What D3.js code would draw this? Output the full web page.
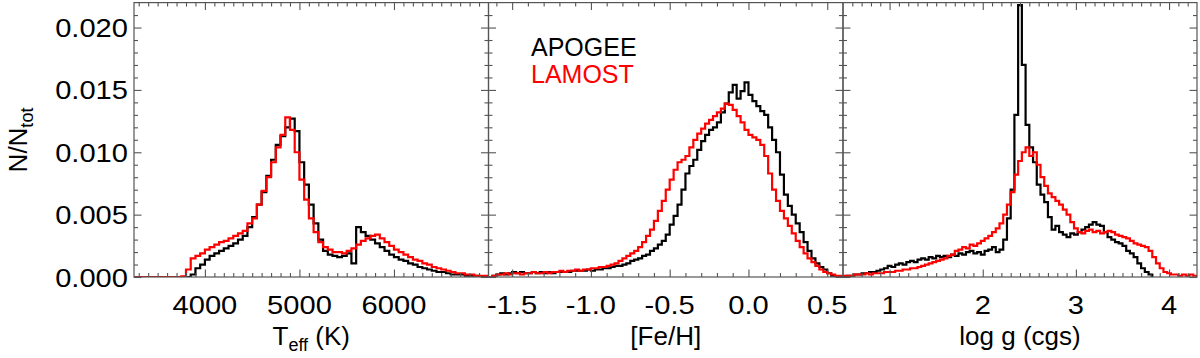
<!DOCTYPE html>
<html>
<head>
<meta charset="utf-8">
<script src="https://cdn.jsdelivr.net/npm/d3@7"></script>
<style>
body{margin:0;background:#fff}
svg{display:block;font-family:"Liberation Sans",Arial,Helvetica,sans-serif}
</style>
</head>
<body>
<script>
// bin left edges for each histogram
var teffEdges = d3.range(75).map(i => 3250 + i*50);
var fehEdges = d3.range(90).map(i => -1.65 + i*0.025);
var loggEdges = d3.range(95).map(i => 0.5 + i*0.04);

// N/Ntot
var teffApogee = [0,0,0,0,0,0,0,0,0,0,0,0,0.0002,0.0007,0.0010,0.0014,0.0017,0.0019,0.0021,0.0023,
  0.0025,0.0027,0.0030,0.0033,0.0040,0.0048,0.0058,0.0068,0.0081,0.0094,0.0106,0.0113,0.0120,0.0127,0.0117,
  0.0092,0.0074,0.0058,0.0043,0.0030,0.0021,0.0018,0.0017,0.0016,0.0017,0.0019,0.0011,0.0040,0.0036,0.0033,
  0.0030,0.0027,0.0024,0.0021,0.0018,0.0016,0.0014,0.0013,0.0011,0.0010,0.0008,0.0007,0.0006,0.0005,0.0004,
  0.0004,0.0003,0.0002,0.0002,0.0002,0.0001,0.0001,0.0001,0.00005,0.00005];
var teffLamost = [0,0,0,0,0,0,0,0,0,0,0.00005,0.0006,0.0015,0.0017,0.0019,0.0022,0.0024,0.0026,0.0028,0.0029,
  0.0031,0.0033,0.0035,0.0037,0.0043,0.0047,0.0058,0.0069,0.0080,0.0092,0.0104,0.0114,0.0128,0.0118,0.0100,
  0.0078,0.0062,0.0047,0.0036,0.0028,0.0024,0.0022,0.0020,0.0020,0.0019,0.0021,0.0023,0.0026,0.0029,0.0031,
  0.0033,0.0034,0.0031,0.0028,0.0025,0.0022,0.0020,0.0018,0.0016,0.0014,0.0013,0.0011,0.0010,0.0008,0.0007,
  0.0006,0.0005,0.0004,0.0003,0.0003,0.0002,0.0002,0.0001,0.0001,0.0001];

var fehApogee = [0,0.0001,0.0002,0.0003,0.0002,0.0003,0.0004,0.0003,0.0004,0.0003,0.0003,0.0004,0.0003,0.0004,
  0.0003,0.0004,0.0003,0.0004,0.0004,0.0004,0.0004,0.0005,0.0005,0.0005,0.0005,0.0006,0.0005,0.0006,0.0006,
  0.0007,0.0007,0.0008,0.0009,0.0009,0.0010,0.0011,0.0013,0.0014,0.0015,0.0017,0.0018,0.0021,0.0023,0.0026,
  0.0029,0.0034,0.0042,0.0049,0.0058,0.0070,0.0083,0.0089,0.0094,0.0102,0.0109,0.0114,0.0118,0.0120,0.0124,
  0.0132,0.0139,0.0148,0.0154,0.0143,0.0149,0.0156,0.0146,0.0141,0.0137,0.0133,0.0130,0.0120,0.0110,0.0100,
  0.0082,0.0066,0.0057,0.0050,0.0043,0.0036,0.0028,0.0021,0.0015,0.0011,0.0008,0.0006,0.0003,0.0001,0,0];
var fehLamost = [0,0.0001,0.0002,0.0002,0.0003,0.0002,0.0003,0.0003,0.0002,0.0003,0.0003,0.0004,0.0003,0.0003,
  0.0004,0.0003,0.0004,0.0004,0.0005,0.0004,0.0005,0.0005,0.0006,0.0005,0.0006,0.0006,0.0007,0.0007,0.0008,
  0.0008,0.0009,0.0010,0.0011,0.0013,0.0015,0.0017,0.0019,0.0021,0.0024,0.0028,0.0033,0.0038,0.0045,0.0053,
  0.0061,0.0070,0.0078,0.0086,0.0092,0.0094,0.0097,0.0104,0.0110,0.0115,0.0119,0.0123,0.0126,0.0129,0.0132,
  0.0135,0.0139,0.0138,0.0134,0.0129,0.0124,0.0118,0.0114,0.0112,0.0110,0.0106,0.0097,0.0083,0.0070,0.0061,
  0.0053,0.0047,0.0041,0.0035,0.0029,0.0024,0.0019,0.0015,0.0012,0.0009,0.0006,0.0004,0.0003,0.0002,0.0001,0.0001];

var loggApogee = [0,0.0001,0.0001,0.0002,0.0002,0.0003,0.0003,0.0004,0.0004,0.0005,0.0006,0.0007,0.0009,
  0.0008,0.0010,0.0011,0.0010,0.0012,0.0013,0.0012,0.0014,0.0015,0.0014,0.0016,0.0015,0.0017,0.0016,0.0017,
  0.0016,0.0018,0.0017,0.0019,0.0018,0.0020,0.0021,0.0019,0.0020,0.0018,
  0.0021,0.0022,0.0024,0.0020,0.0022,0.0030,0.0047,0.0070,0.0130,0.0218,0.0170,0.0122,0.0104,0.0092,0.0074,
  0.0066,0.0060,0.0048,0.0038,0.0041,0.0036,0.0034,0.0032,0.0035,0.0034,
  0.0036,0.0038,0.0040,0.0042,0.0044,0.0042,0.0041,0.0036,0.0032,0.0030,0.0028,0.0027,0.0025,0.0021,0.0019,
  0.0016,0.0011,0.0007,0.0004,0.0002,0,
  null,null,null,null,null,null,null,null,null,null,null];
var loggLamost = [0.0001,0.0001,0.0001,0.0002,0.0002,0.0002,0.0003,0.0002,0.0003,0.0003,0.0003,0.0004,0.0004,
  0.0004,0.0005,0.0005,0.0006,0.0006,0.0007,0.0007,0.0008,0.0009,0.0010,0.0011,0.0012,0.0013,0.0014,0.0015,
  0.0017,0.0018,0.0021,0.0022,0.0024,0.0023,0.0026,0.0025,0.0027,0.0029,
  0.0031,0.0033,0.0036,0.0039,0.0043,0.0050,0.0058,0.0068,0.0082,0.0093,0.0100,0.0104,0.0097,0.0100,0.0090,
  0.0080,0.0073,0.0067,0.0064,0.0061,0.0058,0.0054,0.0050,0.0044,0.0039,
  0.0036,0.0035,0.0037,0.0038,0.0036,0.0037,0.0035,0.0036,0.0037,0.0036,0.0034,0.0033,0.0032,0.0031,0.0029,
  0.0027,0.0026,0.0025,0.0024,0.0021,0.0016,0.0011,0.0007,0.0004,0.0003,
  0.0002,0.0002,0.0001,0.0002,0.0001,0.0002,0.0001];

var yTicks = [0, 0.005, 0.010, 0.015, 0.020];

var W = 1200, H = 358;
var yTop = 2.6, yBot = 277;
var edges = [134, 488.5, 843, 1197];
var sx = 1.12; // the original glyphs are a little wide

var panels = [
  {domain:[3250,7000], major:[4000,5000,6000], minor:d3.range(3300,7000,100), fmt:d => String(d),
   edges:teffEdges, bw:50, a:teffApogee, l:teffLamost, label:["T","eff"," (K)"]},
  {domain:[-1.65,0.6], major:[-1.5,-1.0,-0.5,0.0,0.5], minor:d3.range(-16,6).map(i => i/10), fmt:d => d.toFixed(1),
   edges:fehEdges, bw:0.025, a:fehApogee, l:fehLamost, label:["[Fe/H]"]},
  {domain:[0.5,4.3], major:[1,2,3,4], minor:d3.range(6,43).map(i => i/10), fmt:d => String(d),
   edges:loggEdges, bw:0.04, a:loggApogee, l:loggLamost, label:["log g (cgs)"]}
];

var svg = d3.select("body").append("svg").attr("width", W).attr("height", H);
var y = d3.scaleLinear().domain([0, 0.022]).range([yBot, yTop]);

panels.forEach(function(p, k){
  var x0 = edges[k], x1 = edges[k+1];
  var x = d3.scaleLinear().domain(p.domain).range([x0, x1]);
  var g = svg.append("g");

  g.append("clipPath").attr("id", "clip"+k).append("rect")
    .attr("x", x0).attr("y", yTop).attr("width", x1-x0).attr("height", yBot-yTop);

  var line = d3.line().defined(d => d[1] != null).x(d => x(d[0])).y(d => y(d[1])).curve(d3.curveStepAfter);
  function pts(vals){
    var out = p.edges.map((e,i) => [e, vals[i]]);
    out.push([p.edges[p.edges.length-1] + p.bw, vals[vals.length-1]]);
    return out;
  }
  var plot = g.append("g").attr("clip-path", "url(#clip"+k+")");
  plot.append("path").attr("d", line(pts(p.a))).attr("fill","none").attr("stroke","#000").attr("stroke-width",2.2);
  plot.append("path").attr("d", line(pts(p.l))).attr("fill","none").attr("stroke","#ff0000").attr("stroke-width",2.2);

  // ticks, all pointing inward
  var minorX = p.minor.filter(v => p.major.indexOf(v) < 0 && v > p.domain[0] && v < p.domain[1]);
  var minorY = d3.range(1,22).map(i => i/1000).filter(v => yTicks.indexOf(v) < 0);
  var axes = [
    [d3.axisBottom(x).tickValues(p.major).tickSize(-7.5), "translate(0,"+yBot+")"],
    [d3.axisBottom(x).tickValues(minorX).tickSize(-4), "translate(0,"+yBot+")"],
    [d3.axisTop(x).tickValues(p.major).tickSize(-7.5), "translate(0,"+yTop+")"],
    [d3.axisTop(x).tickValues(minorX).tickSize(-4), "translate(0,"+yTop+")"],
    [d3.axisLeft(y).tickValues(yTicks).tickSize(-7.5), "translate("+x0+",0)"],
    [d3.axisLeft(y).tickValues(minorY).tickSize(-4), "translate("+x0+",0)"],
    [d3.axisRight(y).tickValues(yTicks).tickSize(-7.5), "translate("+x1+",0)"],
    [d3.axisRight(y).tickValues(minorY).tickSize(-4), "translate("+x1+",0)"]
  ];
  axes.forEach(function(a){
    var ag = g.append("g").attr("transform", a[1]).call(a[0].tickSizeOuter(0).tickFormat(""));
    ag.select(".domain").remove();
    ag.selectAll(".tick line").attr("stroke", "#555").attr("stroke-width", 1.1);
  });

  g.append("rect").attr("x", x0).attr("y", yTop).attr("width", x1-x0).attr("height", yBot-yTop)
    .attr("fill","none").attr("stroke","#555").attr("stroke-width",1.2);

  // tick labels
  g.selectAll(".xl").data(p.major).enter().append("text")
    .attr("transform", d => "translate("+x(d)+",314) scale("+sx+",1)")
    .attr("text-anchor","middle").attr("font-size",26).text(p.fmt);

  // axis title
  var t = g.append("text").attr("x", (x0+x1)/2).attr("y", 345).attr("text-anchor","middle").attr("font-size",26);
  t.append("tspan").text(p.label[0]);
  if (p.label.length > 1) {
    t.append("tspan").attr("font-size",18).attr("dy",6).text(p.label[1]);
    t.append("tspan").attr("dy",-6).text(p.label[2]);
  }
});

// y tick labels on the first panel
svg.selectAll(".yl").data(yTicks).enter().append("text")
  .attr("transform", d => "translate(128,"+(y(d)+9.5)+") scale("+sx+",1)")
  .attr("text-anchor","end").attr("font-size",26).text(d => d.toFixed(3));

var yl = svg.append("text").attr("transform","translate(27,140) rotate(-90)").attr("text-anchor","middle").attr("font-size",26);
yl.append("tspan").text("N/N");
yl.append("tspan").attr("font-size",18).attr("dy",6).text("tot");

// legend
svg.append("text").attr("x",531).attr("y",56).attr("font-size",25).attr("fill","#000").text("APOGEE");
svg.append("text").attr("x",531).attr("y",82.5).attr("font-size",25).attr("fill","#ff0000").text("LAMOST");
</script>
</body>
</html>
